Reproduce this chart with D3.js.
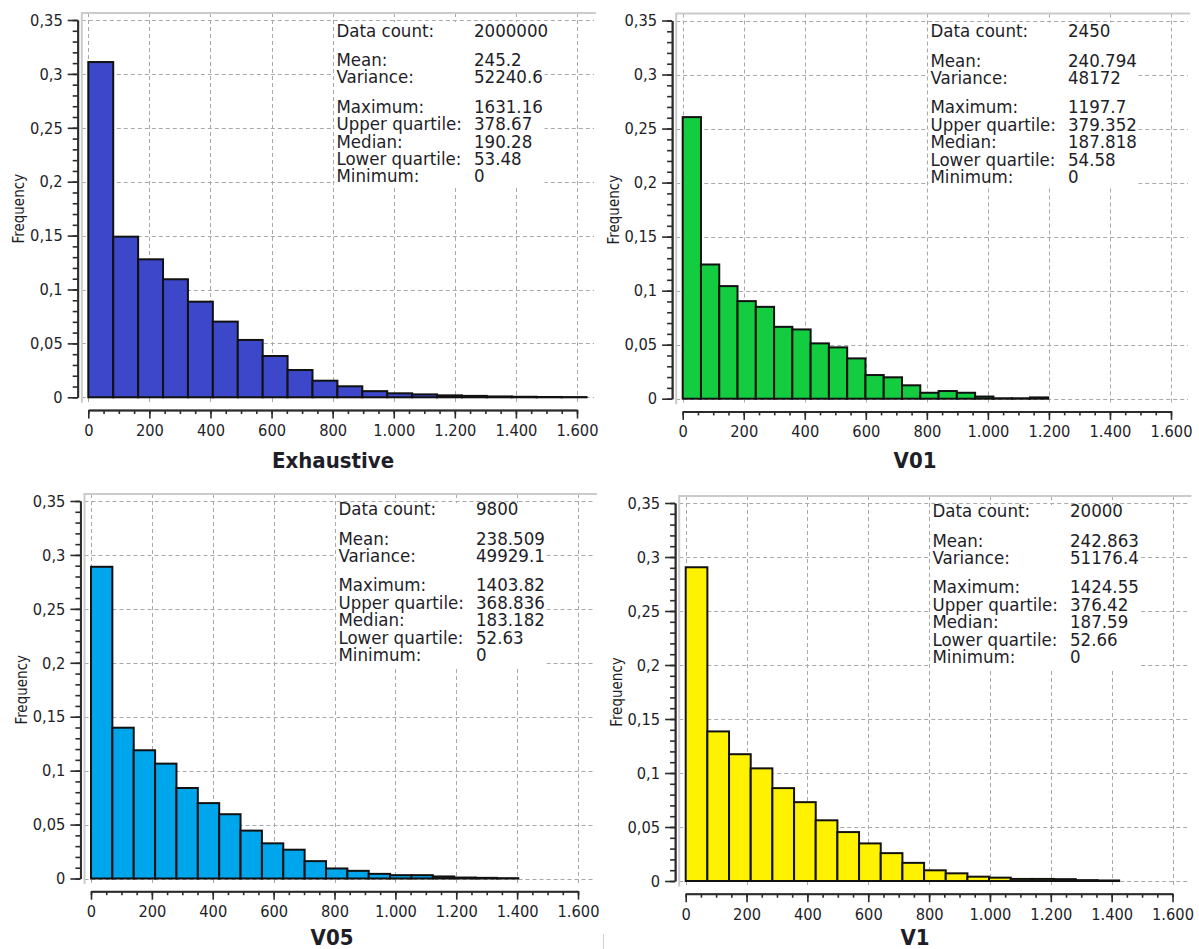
<!DOCTYPE html>
<html>
<head>
<meta charset="utf-8">
<script src="https://cdn.jsdelivr.net/npm/d3@7"></script>
<style>
  html, body { margin: 0; padding: 0; background: #ffffff; }
  svg { display: block; }
  text { font-family: "DejaVu Sans Condensed", "DejaVu Sans", sans-serif; font-stretch: condensed; fill: #1e1e28; }
</style>
</head>
<body>
<svg id="chart" width="1199" height="949"></svg>
<script>
// ---- data -------------------------------------------------------------
const panelNames = ["Exhaustive", "V01", "V05", "V1"];

// relative frequency of each of the 20 equal-width bins (0 .. maximum)
const freqExhaustive = [0.311, 0.149, 0.128, 0.1095, 0.0887, 0.0702, 0.0532, 0.0383, 0.0253, 0.0154,
                        0.0102, 0.0057, 0.0037, 0.0027, 0.0018, 0.0013, 0.0008, 0.0005, 0.0003, 0.0002];
const freqV01        = [0.2606, 0.1242, 0.1042, 0.0903, 0.085, 0.0665, 0.0641, 0.0512, 0.0475, 0.0373,
                        0.0219, 0.0198, 0.0124, 0.0055, 0.0071, 0.0055, 0.002, 0.0004, 0.0004, 0.0012];
const freqV05        = [0.289, 0.1398, 0.1189, 0.1065, 0.0839, 0.0699, 0.0596, 0.0444, 0.0326, 0.0267,
                        0.0161, 0.0093, 0.0071, 0.0043, 0.0031, 0.0031, 0.0019, 0.0009, 0.0006, 0.0003];
const freqV1         = [0.2905, 0.1385, 0.1174, 0.1043, 0.086, 0.073, 0.0562, 0.0453, 0.0348, 0.0258,
                        0.0168, 0.0099, 0.0071, 0.004, 0.0031, 0.0019, 0.0019, 0.0017, 0.0008, 0.0005];

const statLabels = ["Data count:", "Mean:", "Variance:", "Maximum:", "Upper quartile:", "Median:", "Lower quartile:", "Minimum:"];
const statsExhaustive = ["2000000", "245.2", "52240.6", "1631.16", "378.67", "190.28", "53.48", "0"];
const statsV01        = ["2450", "240.794", "48172", "1197.7", "379.352", "187.818", "54.58", "0"];
const statsV05        = ["9800", "238.509", "49929.1", "1403.82", "368.836", "183.182", "52.63", "0"];
const statsV1         = ["20000", "242.863", "51176.4", "1424.55", "376.42", "187.59", "52.66", "0"];

const binCount = 20;
const xTicks = [0, 200, 400, 600, 800, 1000, 1200, 1400, 1600];
const xMinorTicks = d3.range(0, 1601, 50);
const yTicks = [0, 0.05, 0.1, 0.15, 0.2, 0.25, 0.3, 0.35];
const yMinorTicks = d3.range(0, 36).map(d => d / 100);

// ---- styling & layout ------------------------------------------------
const fills = ["#3d47c9", "#14cc3f", "#00a6ec", "#fff200"];
const layout = [
  { x0: 88.3,  x1: 577,    y0: 397.3, y1: 20,    statsDy: 0,    titleX: 333, titleY: 468 },
  { x0: 682.7, x1: 1171,   y0: 398.7, y1: 20.5,  statsDy: 0,    titleX: 915, titleY: 468 },
  { x0: 91,    x1: 578,    y0: 878.5, y1: 501,   statsDy: -2.5, titleX: 332, titleY: 945 },
  { x0: 685.7, x1: 1172.5, y0: 881,   y1: 503,   statsDy: -2.5, titleX: 915, titleY: 945 }
];

const locale = d3.formatLocale({ decimal: ",", thousands: ".", grouping: [3], currency: ["", ""] });
const fmtX = locale.format(",");
const fmtY = locale.format("~g");

const svg = d3.select("#chart");
const freqs = [freqExhaustive, freqV01, freqV05, freqV1];
const stats = [statsExhaustive, statsV01, statsV05, statsV1];

panelNames.forEach((name, p) => {
  const L = layout[p];
  const freq = freqs[p];
  const st = stats[p];
  const maxVal = +st[3];
  const minVal = +st[7];
  const binW = (maxVal - minVal) / binCount;

  const x = d3.scaleLinear().domain([0, 1600]).range([L.x0, L.x1]);
  const y = d3.scaleLinear().domain([0, 0.35]).range([L.y0, L.y1]);

  const g = svg.append("g");

  const frameL = L.x0 - 6.5, frameT = L.y1 - 7, frameR = L.x1 + 19, frameB = L.y0 + 5.5;

  // dashed grid
  const grid = g.append("g").attr("stroke", "#a9a9a9").attr("stroke-width", 1).attr("stroke-dasharray", "4,3");
  grid.selectAll("line.v").data(xTicks).join("line").attr("class", "v")
    .attr("x1", d => Math.round(x(d)) + 0.5).attr("x2", d => Math.round(x(d)) + 0.5)
    .attr("y1", frameT).attr("y2", frameB);
  grid.selectAll("line.h").data(yTicks).join("line").attr("class", "h")
    .attr("x1", frameL).attr("x2", frameR - 2)
    .attr("y1", d => Math.round(y(d)) + 0.5).attr("y2", d => Math.round(y(d)) + 0.5);

  // light frame on top and left
  g.append("path")
    .attr("d", `M${frameR},${frameT}H${frameL}V${frameB}`)
    .attr("fill", "none").attr("stroke", "#cbcbcb").attr("stroke-width", 2);

  // statistics box
  const bx = Math.round(x(800)) + 1.5;
  const by = L.y1 + 2;
  const sy = L.y1 + L.statsDy;
  g.append("rect").attr("x", bx).attr("y", by).attr("width", 210).attr("height", 165).attr("fill", "#ffffff");
  const baseOffsets = [16.5, 46, 63.4, 92.8, 110.2, 127.6, 145, 162.4];
  const st_g = g.append("g").attr("font-size", "18.5px");
  st_g.selectAll("text.lab").data(statLabels).join("text").attr("class", "lab")
    .attr("x", bx + 2).attr("y", (d, i) => sy + baseOffsets[i]).text(d => d);
  st_g.selectAll("text.val").data(st).join("text").attr("class", "val")
    .attr("x", bx + 139.5).attr("y", (d, i) => sy + baseOffsets[i]).text(d => d);

  // histogram bars
  g.append("g").selectAll("rect").data(freq).join("rect")
    .attr("x", (d, i) => x(minVal + i * binW))
    .attr("width", (d, i) => x(minVal + (i + 1) * binW) - x(minVal + i * binW))
    .attr("y", d => y(d))
    .attr("height", d => y(0) - y(d))
    .attr("fill", fills[p]).attr("stroke", "#111").attr("stroke-width", 2);

  // y axis
  const yAxisX = L.x0 - 10.6;
  const yMinor = g.append("g").attr("transform", `translate(${yAxisX},0)`)
    .call(d3.axisLeft(y).tickValues(yMinorTicks).tickSize(5).tickSizeOuter(0).tickFormat(""));
  const yMajor = g.append("g").attr("transform", `translate(${yAxisX},0)`)
    .call(d3.axisLeft(y).tickValues(yTicks).tickSize(10).tickSizeOuter(0).tickPadding(5).tickFormat(fmtY));
  [yMinor, yMajor].forEach(a => {
    a.selectAll("path, line").attr("stroke", "#2b2b2b").attr("stroke-width", 1.6);
    a.selectAll("text").attr("font-size", "16.3px").attr("font-family", null).attr("fill", "#1e1e28");
  });
  yMajor.select(".domain").attr("stroke-width", 2);

  // x axis
  const xAxisY = L.y0 + 12.7;
  const xMinor = g.append("g").attr("transform", `translate(0,${xAxisY})`)
    .call(d3.axisBottom(x).tickValues(xMinorTicks).tickSize(4).tickSizeOuter(0).tickFormat(""));
  const xMajor = g.append("g").attr("transform", `translate(0,${xAxisY})`)
    .call(d3.axisBottom(x).tickValues(xTicks).tickSize(8.5).tickSizeOuter(0).tickPadding(6).tickFormat(fmtX));
  [xMinor, xMajor].forEach(a => {
    a.selectAll("path, line").attr("stroke", "#2b2b2b").attr("stroke-width", 1.6);
    a.selectAll("text").attr("font-size", "16.3px").attr("font-family", null).attr("fill", "#1e1e28");
  });
  xMajor.select(".domain").attr("stroke-width", 2);

  // axis titles
  g.append("text")
    .attr("transform", `translate(${L.x0 - 64},${(L.y0 + L.y1) / 2}) rotate(-90)`)
    .attr("text-anchor", "middle").attr("font-size", "15px").text("Frequency");
  g.append("text")
    .attr("x", L.titleX).attr("y", L.titleY)
    .attr("text-anchor", "middle").attr("font-size", "22px").attr("font-weight", "bold")
    .attr("fill", "#000").text(name);
});

// thin separator stub at the bottom edge
svg.append("line").attr("x1", 603.5).attr("x2", 603.5).attr("y1", 934).attr("y2", 949)
  .attr("stroke", "#d0d0d0").attr("stroke-width", 1);
</script>
</body>
</html>
